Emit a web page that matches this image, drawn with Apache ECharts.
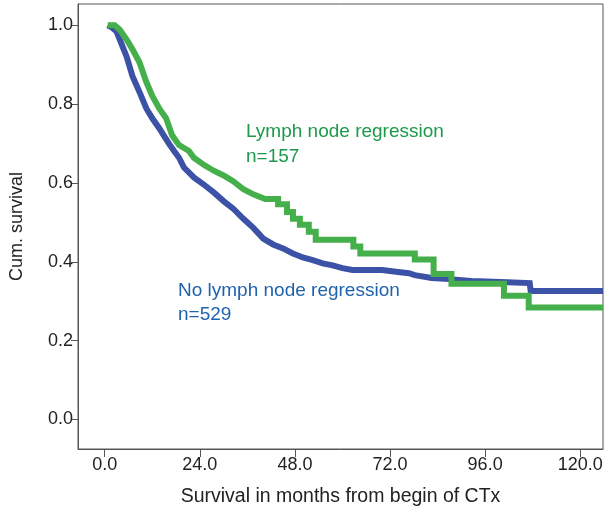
<!DOCTYPE html>
<html>
<head>
<meta charset="utf-8">
<script src="https://cdn.jsdelivr.net/npm/echarts@6/dist/echarts.min.js"></script>
<style>
html,body{margin:0;padding:0;background:#fff;}
#c{width:607px;height:512px;}
</style>
</head>
<body>
<div id="c"></div>
<script>
// Tick labels
const xTicks = [0, 24, 48, 72, 96, 120];
const yTicks = [0, 0.2, 0.4, 0.6, 0.8, 1.0];

// No lymph node regression (n=529): curve vertices [month, cumulative survival]
const noRegressionMonths = [0.75, 1.75, 3, 4.5, 5.5, 7, 8.75, 10.5, 12, 13.75, 15, 16.25, 17.5, 18.75, 20, 22.5, 25, 27.5, 30, 32.5, 35, 37.5, 40, 42.5, 45, 47.5, 50, 52.5, 55, 57.5, 60, 62.5, 70, 74, 76.75, 78.25, 82.5, 87, 92.5, 100, 107.25, 107.5, 125.75];
const noRegressionSurv   = [1.0, 0.995, 0.984, 0.946, 0.921, 0.871, 0.831, 0.789, 0.764, 0.739, 0.719, 0.699, 0.681, 0.664, 0.639, 0.614, 0.596, 0.576, 0.554, 0.534, 0.509, 0.486, 0.459, 0.444, 0.434, 0.421, 0.411, 0.404, 0.396, 0.391, 0.384, 0.379, 0.379, 0.374, 0.371, 0.366, 0.359, 0.356, 0.351, 0.349, 0.346, 0.326, 0.326];

// Lymph node regression (n=157): curve vertices
const regressionMonths = [0.75, 2.5, 3.75, 5.5, 7, 8.75, 10.5, 12, 13.75, 15.5, 17, 18.75, 21.25, 22.5, 25, 27.5, 30, 32.5, 35, 37.5, 40.5, 43.75, 43.75, 46, 46, 47.5, 47.5, 49.25, 49.25, 51.5, 51.5, 53.25, 53.25, 62.75, 62.75, 64.5, 64.5, 78.25, 78.25, 83, 83, 87.5, 87.5, 100.75, 100.75, 107, 107, 125.75];
const regressionSurv   = [1.0, 1.0, 0.989, 0.964, 0.939, 0.906, 0.856, 0.821, 0.789, 0.764, 0.721, 0.696, 0.681, 0.664, 0.646, 0.631, 0.619, 0.604, 0.584, 0.571, 0.559, 0.559, 0.546, 0.546, 0.526, 0.526, 0.509, 0.509, 0.494, 0.494, 0.476, 0.476, 0.456, 0.456, 0.439, 0.439, 0.421, 0.421, 0.406, 0.406, 0.369, 0.369, 0.344, 0.344, 0.314, 0.314, 0.284, 0.284];

const pair = (xs, ys) => xs.map((x, i) => [x, ys[i]]);

const chart = echarts.init(document.getElementById('c'), null, {renderer: 'canvas'});
const font = '"Liberation Sans", Arial, Helvetica, sans-serif';
const axisColor = '#555';

chart.setOption({
  animation: false,
  backgroundColor: '#fff',
  grid: {left: 73, right: 4, top: 4, bottom: 57, show: true, borderColor: axisColor, borderWidth: 1, backgroundColor: 'transparent'},
  xAxis: {
    type: 'value', min: -6.75, max: 125.75,
    name: 'Survival in months from begin of CTx', nameLocation: 'middle', nameGap: 38,
    nameTextStyle: {fontFamily: font, fontSize: 19.5, color: '#222'},
    axisLine: {show: true, onZero: false, lineStyle: {color: axisColor, width: 1}},
    axisTick: {show: true, length: 8, customValues: xTicks, lineStyle: {color: axisColor}},
    axisLabel: {customValues: xTicks, formatter: v => v.toFixed(1), fontFamily: font, fontSize: 18, color: '#222', margin: 7},
    splitLine: {show: false}
  },
  yAxis: {
    type: 'value', min: -0.075, max: 1.054,
    name: 'Cum. survival', nameLocation: 'middle', nameGap: 52,
    nameTextStyle: {fontFamily: font, fontSize: 18, color: '#222'},
    axisLine: {show: true, onZero: false, lineStyle: {color: axisColor, width: 1}},
    axisTick: {show: true, length: 7, customValues: yTicks, lineStyle: {color: axisColor}},
    axisLabel: {customValues: yTicks, formatter: v => v.toFixed(1), fontFamily: font, fontSize: 18, color: '#222', margin: 5},
    splitLine: {show: false}
  },
  series: [
    {
      name: 'No lymph node regression', type: 'line', showSymbol: false,
      data: pair(noRegressionMonths, noRegressionSurv),
      lineStyle: {color: '#3b52a6', width: 6, join: 'miter'}, itemStyle: {color: '#3b52a6'}, clip: true, z: 2
    },
    {
      name: 'Lymph node regression', type: 'line', showSymbol: false,
      data: pair(regressionMonths, regressionSurv),
      lineStyle: {color: '#45b04b', width: 6, join: 'miter'}, itemStyle: {color: '#45b04b'}, clip: true, z: 3
    }
  ],
  graphic: [
    {type: 'text', left: 246, top: 119, style: {text: 'Lymph node regression\nn=157', fill: '#1a9a4a', font: '19px ' + font, lineHeight: 25}},
    {type: 'text', left: 178, top: 279, style: {text: 'No lymph node regression\nn=529', fill: '#1f63ad', font: '19px ' + font, lineHeight: 24}}
  ]
});
</script>
</body>
</html>
